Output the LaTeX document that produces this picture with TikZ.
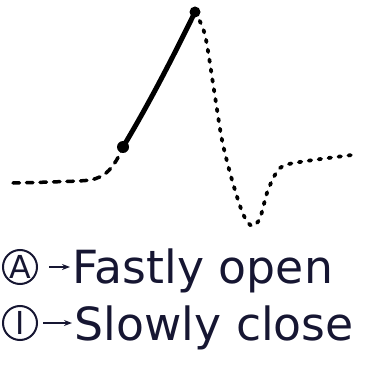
\documentclass[tikz,border=0pt]{standalone}
\usepackage{fontspec}
\setmainfont{DejaVu Sans}
\usetikzlibrary{arrows.meta}
\definecolor{ink}{RGB}{22,22,50}

\begin{document}
\begin{tikzpicture}[x=0.2mm, y=-0.2mm, >={Stealth[length=1.6mm]},
	txt/.style={anchor=base west, inner sep=0.5mm, text=ink, font=\fontsize{26}{28}\selectfont},
	cl/.style={draw=ink, circle, line width=0.4mm, inner sep=0pt, minimum size=6.8mm, text=ink, font=\fontsize{18}{20}\selectfont},
	dotc/.style={line width=0.75mm, line cap=round, dash pattern=on 0.5mm off 1.5mm},
	dashc/.style={line width=0.7mm, line cap=round, dash pattern=on 1.3mm off 1.4mm}]
	\useasboundingbox (0,0) rectangle (371,376);
	% the wave
	\coordinate (st) at (13,183);
	\coordinate (op) at (123,147);
	\coordinate (pk) at (195,12);
	\draw[dashc] plot[smooth] coordinates {(st) (50,182) (90,180) (106,173) (116,161) (op)};
	\draw[line width=1mm, line cap=round] (op) .. controls (150,102) and (174,55) .. (pk);
	\fill (op) circle (1.2mm);
	\fill (pk) circle (1.1mm);
	\draw[dotc] plot[smooth] coordinates {(pk) (205,35) (214,90) (222,140) (232,180) (243,214) (252,226) (260,218) (268,190) (280,168) (300,162) (352,155)};
	% legend
	\node[cl] (a) at (20,267) {A};
	\node[txt] (fo) at (70,283) {Fastly open};
	\node[cl] (i) at (20,323) {I};
	\node[txt] (sc) at (72,340) {Slowly close};
	\draw[->, thick, ink, shorten <=2.2mm] (a.east) -- (a.east -| fo.west);
	\draw[->, thick, ink, shorten <=1mm] (i.east) -- (i.east -| sc.west);
\end{tikzpicture}
\end{document}
